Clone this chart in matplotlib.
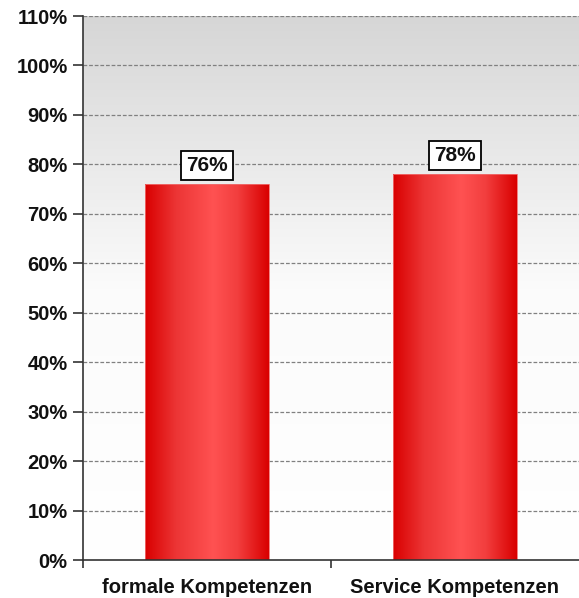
import numpy as np
import matplotlib.pyplot as plt
from matplotlib.colors import LinearSegmentedColormap

# data
categories = ['formale Kompetenzen', 'Service Kompetenzen']
values = [76, 78]
labels = ['76%', '78%']
yticks = list(range(0, 111, 10))

plt.rcParams['font.family'] = ['Liberation Sans', 'DejaVu Sans']

fig = plt.figure(figsize=(5.79, 5.98), dpi=100)
ax = fig.add_axes([83 / 579, 38 / 598, 496 / 579, 544 / 598])

# background gradient (grey at top, white at bottom)
bg = LinearSegmentedColormap.from_list('bg', ['#ffffff', '#fbfbfb', '#d6d6d6'])
grad = np.linspace(0, 1, 256).reshape(-1, 1)
ax.imshow(grad, cmap=bg, aspect='auto', extent=(-0.5, 1.5, 0, 110),
          origin='lower', zorder=0)

# grid
for y in yticks[1:]:
    ax.axhline(y, color='#808080', lw=0.9, ls=(0, (3, 1.5)), zorder=1)

# bars with horizontal red gradient
barcm = LinearSegmentedColormap.from_list(
    'bar', [(0, '#d90000'), (0.25, '#ec3535'), (0.55, '#ff5252'),
            (0.75, '#f23e3e'), (1, '#d90000')])
hgrad = np.linspace(0, 1, 256).reshape(1, -1)
width = 0.5
bars = ax.bar(range(len(values)), values, width=width, color='none',
              edgecolor='#f07070', lw=0.6, zorder=3)
for b, v, lab in zip(bars, values, labels):
    x0 = b.get_x()
    im = ax.imshow(hgrad, cmap=barcm, aspect='auto',
                   extent=(x0, x0 + width, 0, v), zorder=2)
    im.set_clip_path(b)
    ax.text(b.get_x() + width / 2, v + 1.9, lab, ha='center', va='bottom',
            fontsize=15, fontweight='bold', color='#111111', zorder=5,
            bbox=dict(boxstyle='square,pad=0.25', fc='white', ec='black', lw=1.3))

ax.set_xlim(-0.5, 1.5)
ax.set_ylim(0, 110)

# axes styling
ax.set_yticks(yticks)
ax.set_yticklabels([f'{t}%' for t in yticks], fontsize=14.5, fontweight='bold',
                   color='#111111')
ax.tick_params(axis='y', direction='out', length=7, width=1.2, color='#333333', pad=4)

ax.set_xticks([-0.5, 0.5])
ax.set_xticklabels([])
ax.set_xticks(range(len(categories)), minor=True)
ax.set_xticklabels(categories, minor=True, fontsize=14.5, fontweight='bold',
                   color='#111111')
ax.tick_params(axis='x', which='major', direction='out', length=6, width=1.2,
               color='#333333')
ax.tick_params(axis='x', which='minor', length=0, pad=13)

for s in ['top', 'right']:
    ax.spines[s].set_visible(False)
for s in ['left', 'bottom']:
    ax.spines[s].set_color('#333333')
    ax.spines[s].set_linewidth(1.2)
    ax.spines[s].set_zorder(6)

fig.savefig('out.png', dpi=100)
